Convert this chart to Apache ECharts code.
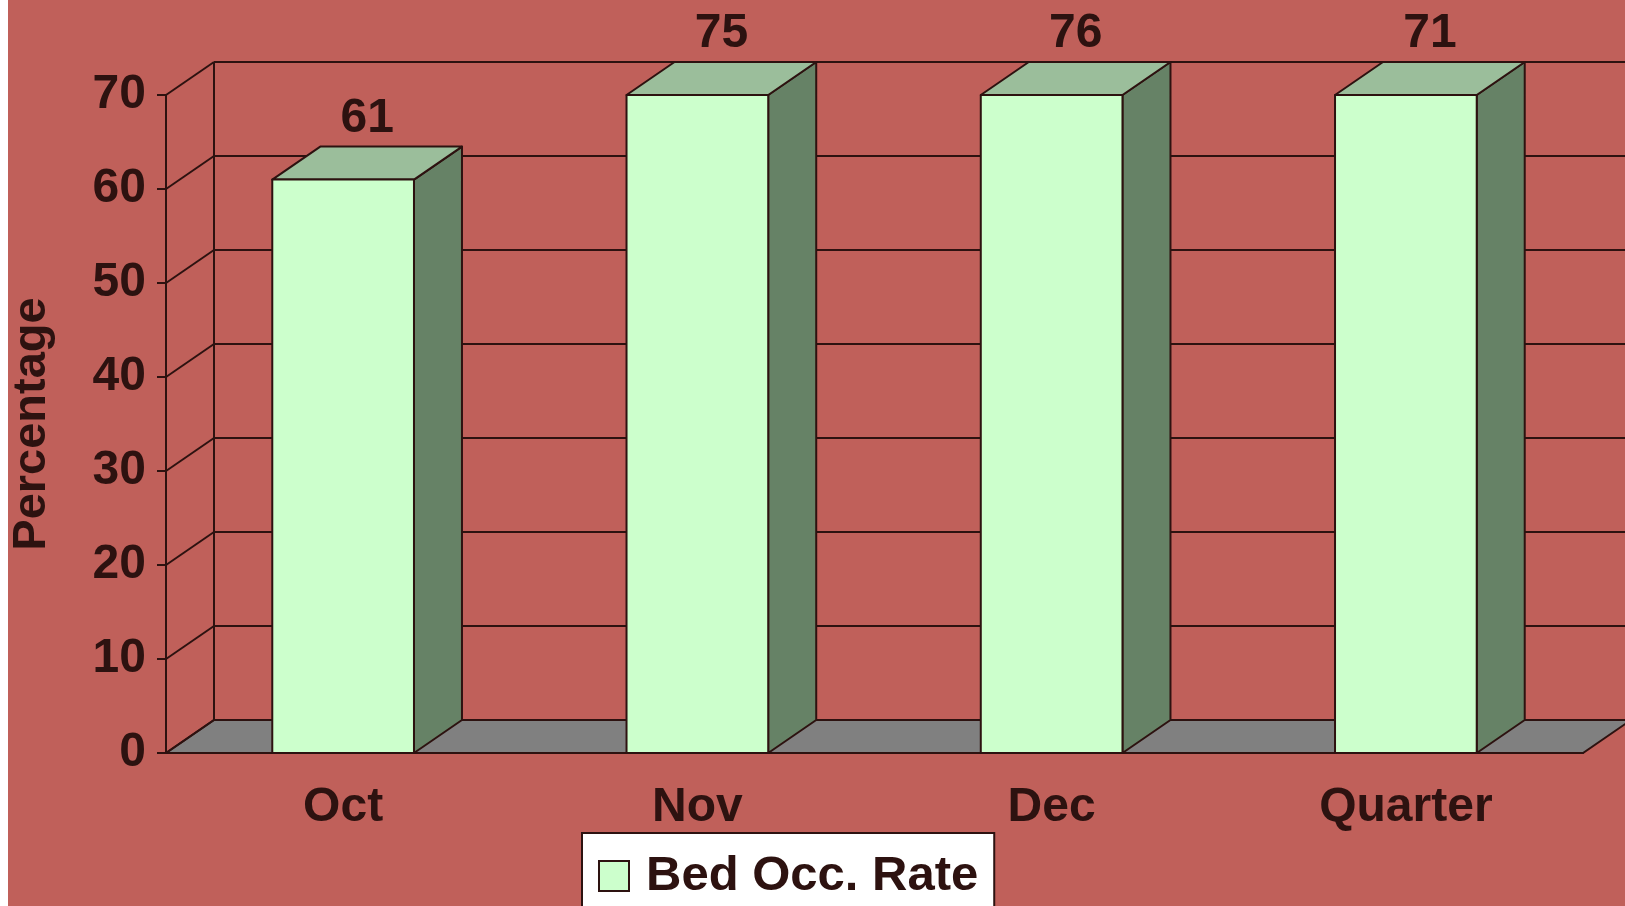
<!DOCTYPE html>
<html>
<head>
<meta charset="utf-8">
<script src="https://cdn.jsdelivr.net/npm/echarts@6/dist/echarts.min.js"></script>
<style>
    * { margin: 0; padding: 0; }
    #main { width: 1625px; height: 906px; }
</style>
</head>
<body>
<div id="main"></div>
<script type="text/javascript">
    var categories = ['Oct', 'Nov', 'Dec', 'Quarter'];
    var occRate = [61, 75, 76, 71];
    var yTicks = [0, 10, 20, 30, 40, 50, 60, 70];
    var seriesName = 'Bed Occ. Rate';
    var yMax = 70;

    var ink = '#2d1210';
    var depth = [48, -33];   // offset of the back wall
    var font = 'Liberation Sans';

    var chart = echarts.init(document.getElementById('main'));

    // left / right edge of the category band at value v
    function bandEdges(api, v) {
        var first = api.coord([0, v]);
        var last = api.coord([categories.length - 1, v]);
        var half = api.size([1, 0])[0] / 2;
        return [first[0] - half, last[0] + half, first[1]];
    }

    function renderFrame(params, api) {
        var b0 = bandEdges(api, 0);
        var bt = bandEdges(api, yMax);
        var x0 = b0[0], x1 = b0[1], y0 = b0[2];
        return {
            type: 'group',
            children: [{
                type: 'polygon',
                shape: { points: [[x0, y0], [x1, y0], [x1 + depth[0], y0 + depth[1]], [x0 + depth[0], y0 + depth[1]]] },
                style: { fill: '#808080', stroke: ink, lineWidth: 2 }
            }, {
                type: 'line',
                shape: { x1: x0 + depth[0], y1: y0 + depth[1], x2: x0 + depth[0], y2: bt[2] + depth[1] },
                style: { stroke: ink, lineWidth: 2 }
            }]
        };
    }

    function renderGrid(params, api) {
        var b = bandEdges(api, api.value(1));
        var x0 = b[0], x1 = b[1], y = b[2];
        return {
            type: 'group',
            children: [{
                type: 'line',
                shape: { x1: x0, y1: y, x2: x0 + depth[0], y2: y + depth[1] },
                style: { stroke: ink, lineWidth: 2 }
            }, {
                type: 'line',
                shape: { x1: x0 + depth[0], y1: y + depth[1], x2: x1 + depth[0], y2: y + depth[1] },
                style: { stroke: ink, lineWidth: 2 }
            }]
        };
    }

    function renderBar(params, api) {
        var i = api.value(0), v = api.value(1);
        var h = Math.min(v, yMax);
        var base = api.coord([i, 0]);
        var top = api.coord([i, h]);
        var w = api.size([1, 0])[0] * 0.4;
        var l = base[0] - w / 2, r = base[0] + w / 2;
        var dx = depth[0], dy = depth[1];
        var yt = top[1], yb = base[1];
        var st = { stroke: ink, lineWidth: 2, lineJoin: 'round' };
        return {
            type: 'group',
            children: [{
                type: 'polygon',
                shape: { points: [[r, yt], [r + dx, yt + dy], [r + dx, yb + dy], [r, yb]] },
                style: Object.assign({ fill: '#668266' }, st)
            }, {
                type: 'polygon',
                shape: { points: [[l, yt], [r, yt], [r + dx, yt + dy], [l + dx, yt + dy]] },
                style: Object.assign({ fill: '#9bbe9b' }, st)
            }, {
                type: 'rect',
                shape: { x: l, y: yt, width: w, height: yb - yt },
                style: Object.assign({ fill: '#ccffcc' }, st)
            }, {
                type: 'text',
                style: {
                    x: base[0] + dx / 2,
                    y: yt + dy - 28,
                    text: String(v),
                    fill: ink,
                    font: 'bold 48px "' + font + '"',
                    align: 'center',
                    verticalAlign: 'middle'
                }
            }]
        };
    }

    var option = {
        backgroundColor: '#c0605a',
        animation: false,
        textStyle: { fontFamily: font },
        graphic: [{
            type: 'rect', left: 0, top: 0,
            shape: { width: 8, height: 906 },
            style: { fill: '#ffffff' }
        }],
        grid: { left: 166, right: 42, top: 95, bottom: 153 },
        legend: {
            data: [{ name: seriesName, icon: 'rect' }],
            left: 582,
            top: 833,
            backgroundColor: '#ffffff',
            borderColor: ink,
            borderWidth: 2,
            borderRadius: 0,
            padding: [18, 16, 40, 16],
            itemWidth: 30,
            itemHeight: 30,
            itemStyle: { color: '#ccffcc', borderColor: ink, borderWidth: 2 },
            textStyle: {
                fontSize: 49, fontWeight: 'bold', color: ink, fontFamily: font,
                lineHeight: 50, padding: [0, 0, 0, 12]
            }
        },
        xAxis: {
            type: 'category',
            data: categories,
            axisLine: { lineStyle: { color: ink, width: 2 } },
            axisTick: { length: 10, lineStyle: { color: ink, width: 2 } },
            axisLabel: { fontSize: 48, fontWeight: 'bold', color: ink, fontFamily: font, margin: 31 },
            splitLine: { show: false }
        },
        yAxis: {
            type: 'value',
            min: 0,
            max: yMax,
            interval: 10,
            name: 'Percentage',
            nameLocation: 'middle',
            nameGap: 110,
            nameTextStyle: { fontSize: 47, fontWeight: 'bold', color: ink, fontFamily: font },
            axisLine: { show: true, lineStyle: { color: ink, width: 2 } },
            axisTick: { show: true, length: 9, lineStyle: { color: ink, width: 2 } },
            axisLabel: { fontSize: 48, fontWeight: 'bold', color: ink, fontFamily: font, margin: 20 },
            splitLine: { show: false }
        },
        series: [{
            name: 'frame',
            type: 'custom',
            z: 1,
            silent: true,
            renderItem: renderFrame,
            data: [[0, 0]]
        }, {
            name: 'wall',
            type: 'custom',
            z: 1,
            silent: true,
            renderItem: renderGrid,
            data: yTicks.map(function (v) { return [0, v]; })
        }, {
            name: seriesName,
            type: 'custom',
            z: 3,
            itemStyle: { color: '#ccffcc', borderColor: ink },
            renderItem: renderBar,
            data: occRate.map(function (v, i) { return [i, v]; })
        }]
    };

    chart.setOption(option);
</script>
</body>
</html>
